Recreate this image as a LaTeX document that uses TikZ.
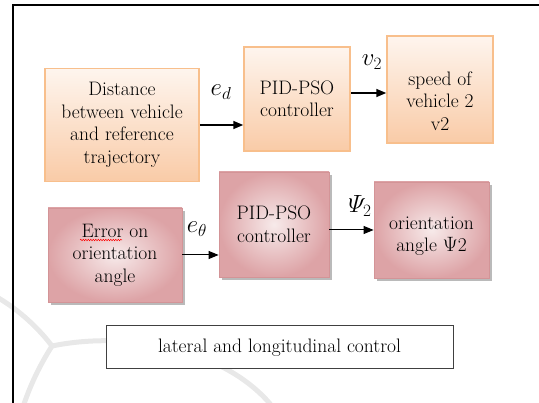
\documentclass[tikz,border=0pt]{standalone}
\usepackage{amsmath}
\usetikzlibrary{arrows.meta,shadows,decorations.pathmorphing}
\definecolor{oborder}{HTML}{F8BF8C}
\definecolor{otop}{HTML}{FEF5EE}
\definecolor{obot}{HTML}{F9CBA7}
\definecolor{pborder}{HTML}{D39497}
\definecolor{pin}{HTML}{F7EAEA}
\definecolor{pout}{HTML}{DDA3A6}
\definecolor{wmark}{HTML}{E8E8E8}
\begin{document}
\begin{tikzpicture}[x=1pt,y=-1pt,
  font=\fontsize{19.5}{22.5}\selectfont,
  obox/.style={draw=oborder, line width=1.5pt, top color=otop, bottom color=obot, inner sep=0pt, align=center},
  pbox/.style={draw=pborder, line width=0.8pt, shading=radial, inner color=pin, outer color=pout, inner sep=0pt, align=center,
    drop shadow={shadow xshift=3pt, shadow yshift=-3pt, fill=black!45, opacity=0.6}},
  txt/.style={align=center, inner sep=0pt},
  arr/.style={-{Triangle[length=10pt,width=8pt]}, line width=1.5pt},
  arrthin/.style={-{Triangle[length=10pt,width=8pt]}, line width=1pt},
  lbl/.style={inner sep=0pt, font=\fontsize{25}{28}\selectfont},
  wm/.style={wmark, line width=5pt, line cap=round}]
\useasboundingbox (0,0) rectangle (539,403);
\clip (0,0) rectangle (539,403);
% watermark
\draw[wm] (-5,296) .. controls (20,310) and (40,330) .. (52,346);
\draw[wm] (52,346) .. controls (40,365) and (30,385) .. (22,410);
\draw[wm] (52,346) .. controls (130,330) and (230,350) .. (275,410);
% frame
\draw[line width=1.6pt] (13,420) -- (13,5) -- (560,5);
% top row
\node[obox, minimum width=154pt, minimum height=113pt] (b1) at (122,125) {Distance\\between vehicle\\and reference\\trajectory};
\node[obox, minimum width=106pt, minimum height=104pt] (b2) at (297,99) {PID-PSO\\controller};
\node[obox, minimum width=106pt, minimum height=107pt] (b3) at (440,89.5) {};
\node[txt] (t3) at (440,101) {speed of\\vehicle 2\\v2};
% bottom row
\node[pbox, minimum width=134pt, minimum height=94pt] (b4) at (115,255) {Error on\\orientation\\angle};
\node[pbox, minimum width=110pt, minimum height=105pt] (b5) at (274,224.5) {PID-PSO\\controller};
\node[pbox, minimum width=115pt, minimum height=96pt] (b6) at (431.5,230) {};
\node[txt] (t6) at (431.5,236) {orientation\\angle $\Psi$2};
\draw[red, line width=0.5pt, decorate, decoration={snake, amplitude=0.7pt, segment length=2.5pt}] (80,240) -- (122,240);
% bottom label box
\node[draw=black!75, line width=1pt, fill=white, minimum width=347pt, minimum height=43pt] (lc) at (279.5,347.5) {lateral and longitudinal control};
% connectors
\draw[arr] (b1.east) -- (b1.east -| b2.west);
\draw[arr] ([yshift=6pt]b2.east) -- ([yshift=6pt]b2.east -| b3.west);
\draw[arrthin] (b4.east) -- (b4.east -| b5.west);
\draw[arrthin] (b6.west -| b5.east) -- (b6.west);
% labels
\node[lbl] (ed) at (221,92) {$e_d$};
\node[lbl] (v2) at (372,62) {$v_2$};
\node[lbl] (eth) at (197,229) {$e_\theta$};
\node[lbl] (psi) at (360,206) {$\varPsi_2$};
\end{tikzpicture}
\end{document}
